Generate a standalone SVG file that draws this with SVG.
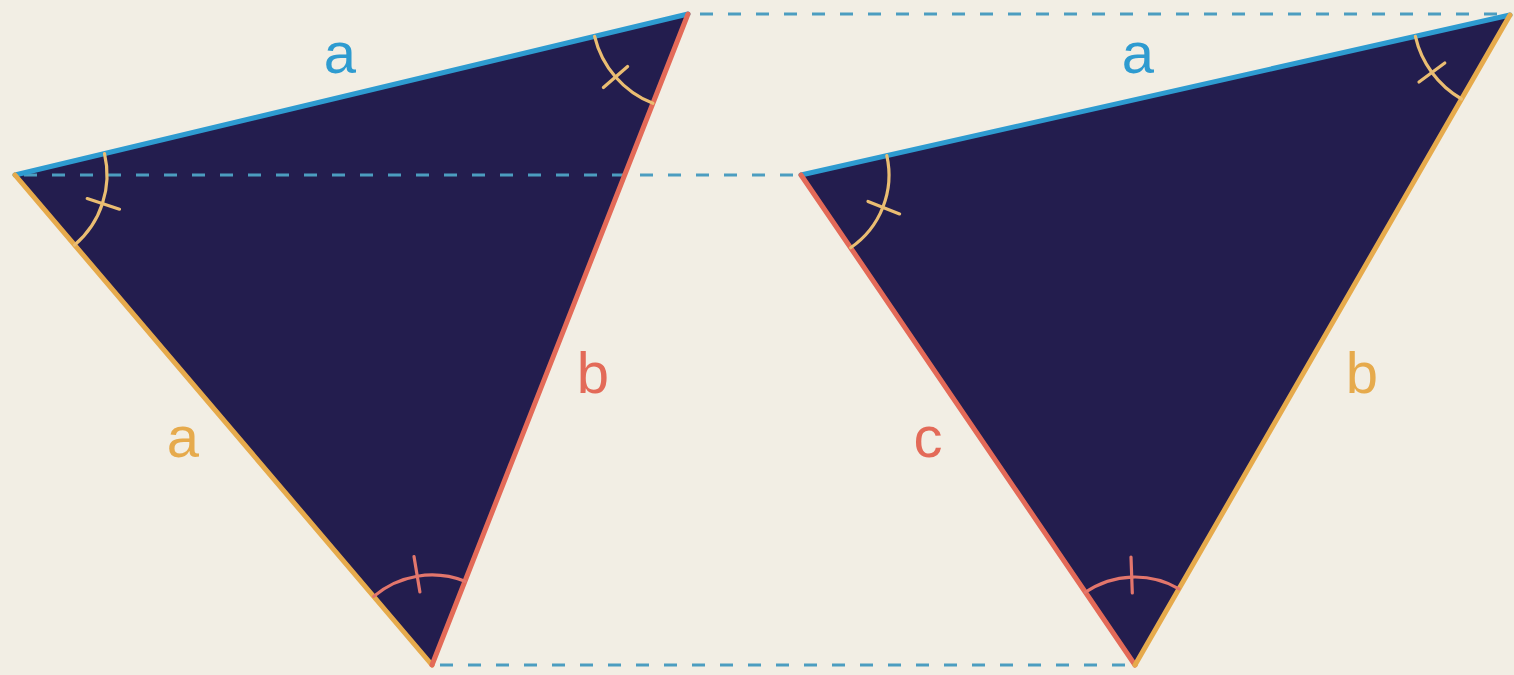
<svg xmlns="http://www.w3.org/2000/svg" width="1514" height="675" viewBox="0 0 1514 675">
<style>
.tri{fill:#231d4e;stroke:none}
.blue{stroke:#2e9bd0;stroke-width:5;stroke-linecap:round;fill:none}
.yel{stroke:#e6aa4c;stroke-width:5;stroke-linecap:round;fill:none}
.red{stroke:#e36a58;stroke-width:5;stroke-linecap:round;fill:none}
.arcy{stroke:#eabd72;stroke-width:3.2;fill:none;stroke-linecap:round}
.arcr{stroke:#e3766c;stroke-width:3.2;fill:none;stroke-linecap:round}
.dash{stroke:#4c9dc0;stroke-width:3;stroke-dasharray:13 15;fill:none}
.lbl{font-family:"Liberation Sans",Arial,sans-serif;font-size:58px;text-anchor:middle}
</style>
<rect width="1514" height="675" fill="#f2eee4"/>
<g id="triangle-left">
<polygon class="tri" points="15,175 688,14 432,665"/>
</g>
<g id="triangle-right">
<polygon class="tri" points="801,175 1510,15 1135,665"/>
</g>
<g id="connectors">
<line class="dash" x1="700" y1="14" x2="1510" y2="14"/>
<line class="dash" x1="24" y1="175" x2="801" y2="175"/>
<line class="dash" x1="440" y1="665" x2="1135" y2="665"/>
</g>
<g id="edges-left">
<line class="blue" x1="15" y1="175" x2="688" y2="14"/>
<line class="yel" x1="15" y1="175" x2="432" y2="665"/>
<line class="red" x1="688" y1="14" x2="432" y2="665"/>
</g>
<g id="edges-right">
<line class="blue" x1="801" y1="175" x2="1510" y2="15"/>
<line class="red" x1="801" y1="175" x2="1135" y2="665"/>
<line class="yel" x1="1510" y1="15" x2="1135" y2="665"/>
</g>
<g id="angles-left">
<path class="arcy" d="M104.5 153.6 A92 92 0 0 1 74.6 245"/>
<line class="arcy" x1="87.2" y1="198.6" x2="119.5" y2="209.2"/>
<path class="arcy" d="M652.9 103.3 A96 96 0 0 1 594.6 36.3"/>
<line class="arcy" x1="627.6" y1="66.5" x2="603.4" y2="87.5"/>
<path class="arcr" d="M373.7 596.4 A90 90 0 0 1 465 581.3"/>
<line class="arcr" x1="419.9" y1="592" x2="414" y2="556.5"/>
</g>
<g id="angles-right">
<path class="arcy" d="M886.8 155.6 A88 88 0 0 1 850.6 247.7"/>
<line class="arcy" x1="868" y1="201.4" x2="899.6" y2="213.9"/>
<path class="arcy" d="M1461.5 99 A97 97 0 0 1 1415.4 36.4"/>
<line class="arcy" x1="1444.8" y1="63" x2="1419" y2="82"/>
<path class="arcr" d="M1085.4 592.3 A88 88 0 0 1 1179 588.8"/>
<line class="arcr" x1="1132.3" y1="593" x2="1131" y2="557"/>
</g>
<g id="labels">
<text class="lbl" x="340" y="73" fill="#2e9bd0">a</text>
<text class="lbl" x="183" y="457" fill="#e6aa4c">a</text>
<text class="lbl" x="593" y="393" fill="#e36a58">b</text>
<text class="lbl" x="1138" y="73" fill="#2e9bd0">a</text>
<text class="lbl" x="928" y="457" fill="#e36a58">c</text>
<text class="lbl" x="1362" y="393" fill="#e6aa4c">b</text>
</g>
</svg>
